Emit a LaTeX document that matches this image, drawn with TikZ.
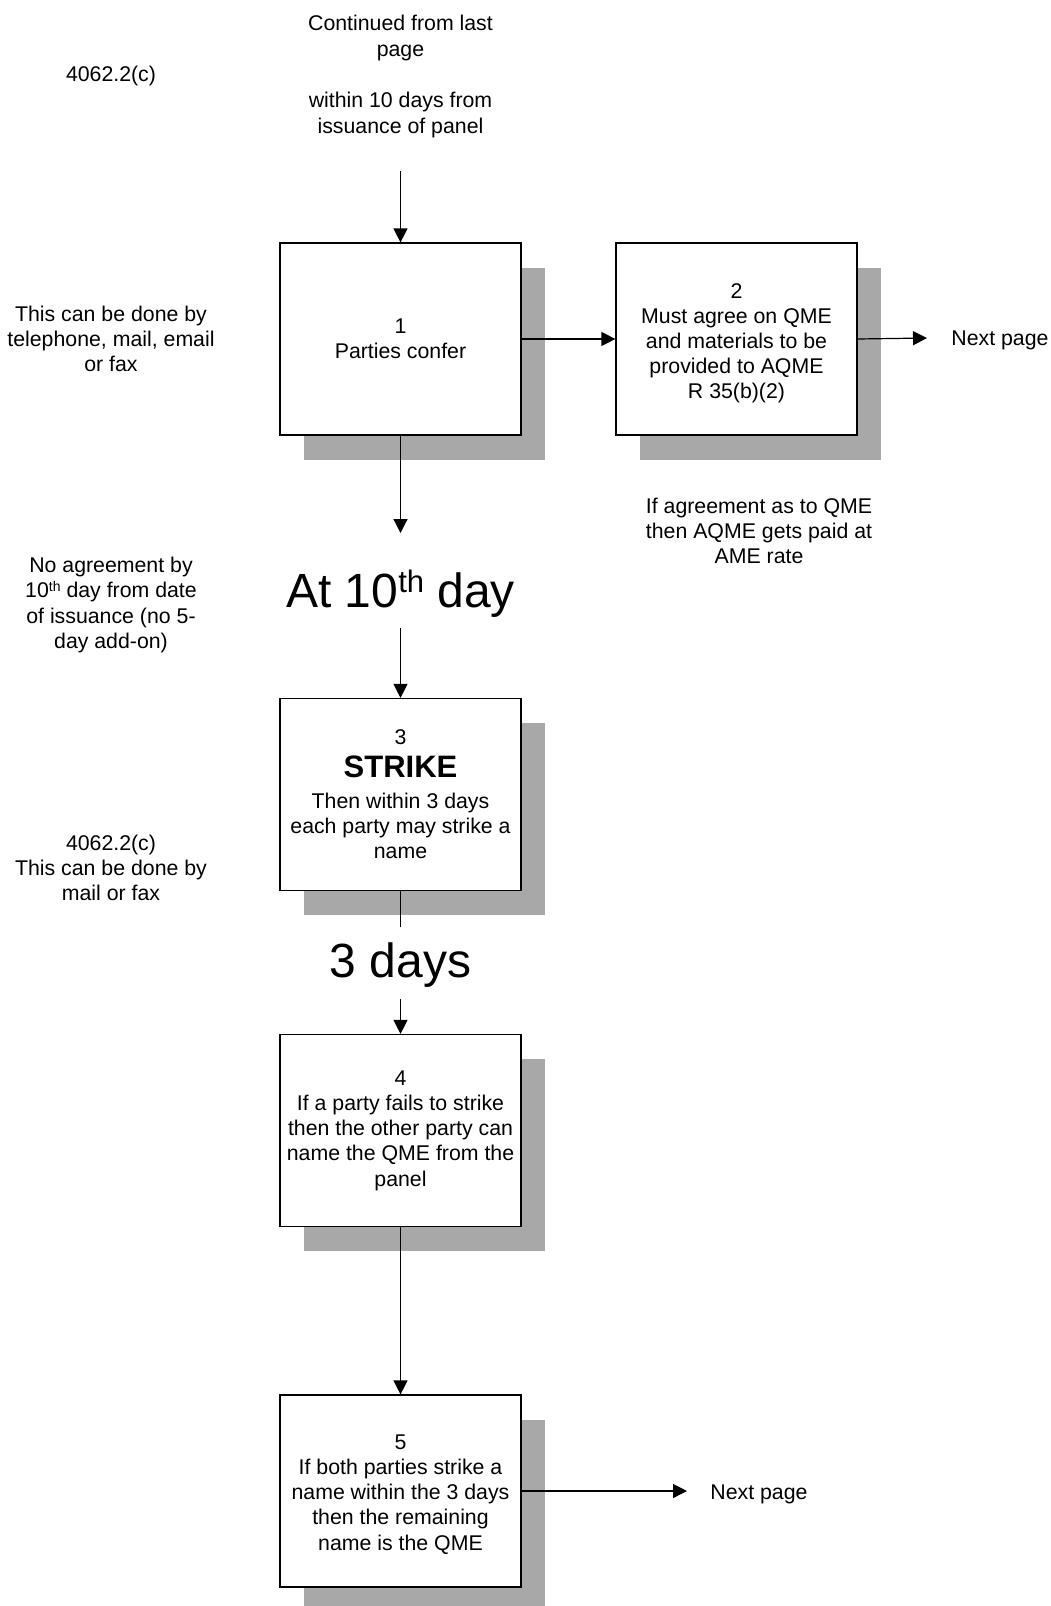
\documentclass[tikz,border=0pt]{standalone}
\usepackage{fontspec}
\setmainfont{Liberation Sans}
\usetikzlibrary{arrows.meta,shadows}
\newcommand{\supth}[2]{\raisebox{#1}{\fontsize{#2}{#2}\selectfont th}}
\begin{document}
\begin{tikzpicture}[x=1pt,y=-1pt,
  txt/.style={font=\fontsize{21.3}{25.2}\selectfont, align=center, inner sep=0pt},
  big/.style={font=\fontsize{48}{55}\selectfont, inner sep=0pt},
  stepbox/.style={draw=black, line width=1.2pt, fill=white, minimum width=241pt,
    minimum height=192pt, inner sep=0pt, align=center,
    font=\fontsize{21.3}{25.2}\selectfont,
    drop shadow={shadow xshift=24pt, shadow yshift=-24.5pt, fill=black!34, opacity=1}},
  arr/.style={line width=1.2pt, -{Triangle[length=14pt,width=14pt]}},
  ln/.style={line width=1.2pt}]
\useasboundingbox (0,0) rectangle (1051,1606);

% boxes
\node[stepbox] (b1) at (400.5,339) {1\\Parties confer};
\node[stepbox] (b2) at (736.5,339) {\rule{0pt}{23.5pt}2\\Must agree on QME\\and materials to be\\provided to AQME\\R 35(b)(2)};
\node[stepbox] (b3) at (400.5,794.5) {3\\[7.5pt]{\fontsize{31}{34}\selectfont\bfseries STRIKE}\\[5.5pt]Then within 3 days\\each party may strike a\\name};
\node[stepbox] (b4) at (400.5,1130.5) {4\\If a party fails to strike\\then the other party can\\name the QME from the\\panel};
\node[stepbox] (b5) at (400.5,1491) {\rule{0pt}{21.5pt}5\\If both parties strike a\\name within the 3 days\\then the remaining\\name is the QME};

% texts
\node[txt] (cont) at (400.5,38) {Continued from last\\page};
\node[txt] (within) at (400.5,115) {within 10 days from\\issuance of panel};
\node[txt] (rule1) at (111,76) {4062.2(c)};
\node[txt] (phone) at (111,339) {This can be done by\\telephone, mail, email\\or fax};
\node[txt] (next1) at (1000,340) {Next page};
\node[txt] (agree) at (759,531) {If agreement as to QME\\then AQME gets paid at\\AME rate};
\node[txt] (noagree) at (111,605) {No agreement by\\10\supth{6.5pt}{14} day from date\\of issuance (no 5-\\day add-on)};
\node[big] (tenth) at (400.5,594) {At 10\supth{15pt}{31} day};
\node[txt] (rule2) at (111,868) {4062.2(c)\\This can be done by\\mail or fax};
\node[big] (three) at (400.5,965) {3 days};
\node[txt] (next2) at (759,1494) {Next page};

% free ends
\coordinate (top) at (400.5,171);
\coordinate (a1end) at (400.5,533);
\coordinate (a3start) at (400.5,628);
\coordinate (l3end) at (400.5,927);
\coordinate (a4start) at (400.5,999);
\coordinate (np1) at (927,338);
\coordinate (np2) at (687,1491);

% connectors
\draw[arr] (top) -- (b1.north);
\draw[arr] (b1.east) -- (b2.west);
\draw[arr] (b2.east) -- (np1);
\draw[arr] (b1.south) -- (a1end);
\draw[arr] (a3start) -- (b3.north);
\draw[ln] (b3.south) -- (l3end);
\draw[arr] (a4start) -- (b4.north);
\draw[arr] (b4.south) -- (b5.north);
\draw[arr] (b5.east) -- (np2);
\end{tikzpicture}
\end{document}
